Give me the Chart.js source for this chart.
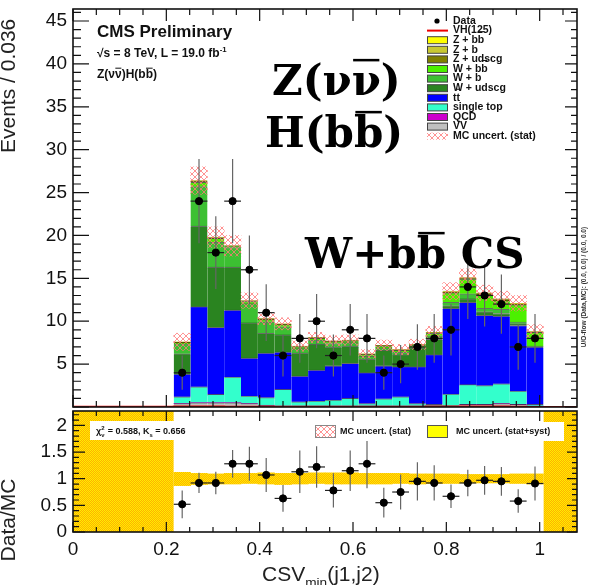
<!DOCTYPE html>
<html>
<head>
<meta charset="utf-8">
<script src="https://cdn.jsdelivr.net/npm/chart.js@4.4.1/dist/chart.umd.min.js"></script>
<style>
  body { margin: 0; background: #fff; }
  #wrap { position: relative; width: 591px; height: 585px; overflow: hidden; }
  #topBox { position: absolute; left: 0; top: 0; }
  #botBox { position: absolute; left: 0; top: 405px; }
</style>
</head>
<body>
<div id="wrap">
  <div id="topBox"><canvas id="topChart" width="591" height="412"></canvas></div>
  <div id="botBox"><canvas id="ratioChart" width="591" height="180"></canvas></div>
</div>
<script>
// bins of 0.036 in CSVmin, only the filled ones
var binCenters = [0.234, 0.270, 0.306, 0.342, 0.378, 0.414, 0.450, 0.486, 0.522, 0.558, 0.594,
                  0.630, 0.666, 0.702, 0.738, 0.774, 0.810, 0.846, 0.882, 0.918, 0.954, 0.990];
var binW = 0.036;

// MC stack, bottom to top
var vv        = [0.4, 0.5, 0.5, 0.5, 0.4, 0.2, 0.1, 0.1, 0.1, 0.1, 0.1, 0.1, 0.1, 0.1, 0.1, 0.1, 0.1, 0.3, 0.3, 0.4, 0.3, 0.1];
var qcd       = [0, 0, 0, 0, 0, 0, 0, 0, 0, 0, 0, 0, 0, 0, 0, 0, 0, 0, 0, 0, 0, 0];
var singleTop = [0.8, 1.85, 0.97, 3.0, 0.87, 0.9, 1.95, 0.5, 0.6, 0.7, 0.9, 0.3, 0.85, 1.1, 0.3, 0.2, 1.4, 2.3, 2.2, 2.3, 1.55, 0.2];
var ttbar     = [2.65, 9.35, 7.83, 7.8, 4.43, 5.2, 4.35, 3.0, 3.6, 4.0, 4.1, 3.6, 3.85, 3.5, 4.3, 5.8, 10.0, 9.6, 8.2, 7.9, 7.65, 6.7];
var wUdscg    = [2.35, 9.4, 7.0, 5.0, 4.1, 2.3, 2.0, 2.7, 3.0, 2.2, 2.0, 1.6, 1.8, 1.4, 2.2, 1.8, 0.3, 0.4, 0.4, 0.3, 0.2, 0.05];
var wB        = [1.15, 4.6, 2.9, 2.3, 2.25, 1.33, 0.95, 0.5, 0.5, 0.4, 0.4, 0.3, 0.3, 0.3, 0.1, 0.4, 0.4, 0.6, 0.4, 0.5, 0.2, 0.05];
var wBB       = [0.15, 0.5, 0.45, 0.15, 0.25, 0.25, 0.25, 0.2, 0.2, 0.2, 0.2, 0.2, 0.2, 0.2, 0.2, 0.3, 1.1, 1.7, 1.6, 1.0, 2.0, 1.6];
var zUdscg    = [0.05, 0.1, 0.07, 0.03, 0.05, 0.06, 0.05, 0.05, 0.05, 0.05, 0.05, 0.05, 0.05, 0.05, 0.05, 0.05, 0.08, 0.08, 0.08, 0.08, 0.08, 0.04];
var zB        = [0.03, 0.05, 0.04, 0.01, 0.03, 0.03, 0.03, 0.03, 0.03, 0.03, 0.03, 0.03, 0.03, 0.03, 0.03, 0.03, 0.06, 0.06, 0.06, 0.06, 0.06, 0.03];
var zBB       = [0.02, 0.05, 0.04, 0.01, 0.02, 0.03, 0.02, 0.02, 0.02, 0.02, 0.02, 0.02, 0.02, 0.02, 0.02, 0.02, 0.06, 0.06, 0.06, 0.06, 0.06, 0.03];
var vhSignal  = [0.02, 0.05, 0.05, 0.05, 0.04, 0.03, 0.03, 0.03, 0.03, 0.03, 0.03, 0.03, 0.03, 0.03, 0.03, 0.03, 0.05, 0.06, 0.06, 0.06, 0.06, 0.04];
var mcStatErr = [1.0, 1.6, 1.2, 1.2, 0.9, 0.7, 0.7, 0.6, 0.6, 0.6, 0.6, 0.5, 0.6, 0.6, 0.6, 0.7, 1.0, 1.0, 0.9, 0.9, 0.9, 0.8];

// data
var dataVals = [4, 24, 18, 24, 16, 11, 6, 8, 10, 6, 9, 8, 4, 5, 7, 8, 9, 14, 13, 12, 7, 8];
var dataErr  = [2.0, 4.9, 4.24, 4.9, 4.0, 3.32, 2.45, 2.83, 3.16, 2.45, 3.0, 2.83, 2.0, 2.24, 2.65, 2.83, 3.0, 3.74, 3.61, 3.46, 2.65, 2.83];

// ratio panel
var ratioVals = [0.52, 0.92, 0.92, 1.28, 1.28, 1.07, 0.63, 1.13, 1.22, 0.78, 1.15, 1.28, 0.55, 0.75, 0.95, 0.92, 0.67, 0.92, 0.97, 0.95, 0.58, 0.91];
var ratioErr  = [0.26, 0.19, 0.21, 0.26, 0.32, 0.32, 0.25, 0.40, 0.39, 0.32, 0.38, 0.46, 0.28, 0.33, 0.36, 0.33, 0.22, 0.25, 0.27, 0.27, 0.22, 0.32];
var systLo    = [0.87, 0.89, 0.90, 0.90, 0.91, 0.90, 0.89, 0.90, 0.91, 0.90, 0.90, 0.90, 0.90, 0.91, 0.90, 0.91, 0.91, 0.92, 0.92, 0.92, 0.91, 0.90];
var systHi    = [1.12, 1.10, 1.09, 1.10, 1.10, 1.11, 1.10, 1.10, 1.11, 1.11, 1.11, 1.10, 1.10, 1.10, 1.09, 1.09, 1.09, 1.08, 1.08, 1.08, 1.09, 1.09];
var noMcRanges = [[0, 0.216], [1.008, 1.08]];

var xMax = 1.08;
var yMax = 46.4;
var ratioMax = 2.27;

var SANS = "'Liberation Sans', Arial, sans-serif";
var SERIF = "'DejaVu Serif', serif";

Chart.defaults.font.family = SANS;
Chart.defaults.animation = false;
Chart.defaults.events = [];

// ROOT-like fill patterns
function hatchPattern() {
  var c = document.createElement('canvas');
  c.width = 6; c.height = 6;
  var g = c.getContext('2d');
  g.strokeStyle = 'rgba(255,120,120,0.8)';
  g.lineWidth = 1;
  g.beginPath();
  g.moveTo(0, 0); g.lineTo(6, 6);
  g.moveTo(6, 0); g.lineTo(0, 6);
  g.stroke();
  return g.createPattern(c, 'repeat');
}
function checkerPattern() {
  var c = document.createElement('canvas');
  c.width = 2; c.height = 2;
  var g = c.getContext('2d');
  g.fillStyle = '#ffee00';
  g.fillRect(0, 0, 2, 2);
  g.fillStyle = '#ffb000';
  g.fillRect(0, 0, 1, 1);
  g.fillRect(1, 1, 1, 1);
  return g.createPattern(c, 'repeat');
}
var hatch = hatchPattern();
var checker = checkerPattern();

function fmtTick(v) { return String(+v.toFixed(2)); }

// text with overlines / super- and subscripts
function rich(ctx, x, y, parts, size, family, weight) {
  var cx = x;
  parts.forEach(function (p) {
    var t = p[0], k = p[1] || '';
    var s = (k === '^' || k === '_') ? size * 0.65 : size;
    ctx.font = weight + ' ' + s + 'px ' + family;
    var dy = k === '^' ? -size * 0.45 : (k === '_' ? size * 0.28 : 0);
    ctx.fillText(t, cx, y + dy);
    var w = ctx.measureText(t).width;
    if (k === 'o') {
      ctx.fillRect(cx + w * 0.05, y - size * 0.86, w * 0.9, Math.max(1, size * 0.06));
    }
    cx += w;
  });
  return cx - x;
}

// error bars for the data points
var errorBars = {
  id: 'errorBars',
  beforeDatasetDraw: function (chart, args) {
    var ds = chart.data.datasets[args.index];
    if (!ds.errY) return;
    var xs = chart.scales.x, ys = chart.scales[ds.yAxisID];
    var ctx = chart.ctx;
    ctx.save();
    ctx.lineWidth = 1.2;
    args.meta.data.forEach(function (pt, i) {
      var d = ds.data[i], e = ds.errY[i];
      var y1 = ys.getPixelForValue(d.y - e), y2 = ys.getPixelForValue(d.y + e);
      var xl = xs.getPixelForValue(d.x - binW / 2), xr = xs.getPixelForValue(d.x + binW / 2);
      ctx.strokeStyle = '#666';
      ctx.beginPath();
      ctx.moveTo(pt.x, y1); ctx.lineTo(pt.x, y2);
      ctx.stroke();
      ctx.strokeStyle = '#222';
      ctx.beginPath();
      ctx.moveTo(xl, pt.y); ctx.lineTo(xr, pt.y);
      ctx.stroke();
    });
    ctx.restore();
  }
};

// frame with inward ticks on all sides
var rootFrame = {
  id: 'rootFrame',
  afterDraw: function (chart, args, o) {
    var ctx = chart.ctx, a = chart.chartArea;
    var xs = chart.scales.x, ys = chart.scales.y;
    ctx.save();
    ctx.strokeStyle = '#111';
    ctx.lineWidth = 1.2;
    ctx.beginPath();
    var v, k, len, p;
    for (k = 0; k * o.yMinor <= ys.max + 1e-9; k++) {
      v = k * o.yMinor;
      var major = Math.abs(v / o.yMajor - Math.round(v / o.yMajor)) < 1e-6;
      p = ys.getPixelForValue(v);
      len = major ? o.yLen[0] : o.yLen[1];
      ctx.moveTo(a.left, p); ctx.lineTo(a.left + len, p);
      len = major ? o.yLenR[0] : o.yLenR[1];
      ctx.moveTo(a.right, p); ctx.lineTo(a.right - len, p);
    }
    for (k = 0; k * o.xMinor <= xs.max + 1e-9; k++) {
      v = k * o.xMinor;
      var majorX = Math.abs(v / o.xMajor - Math.round(v / o.xMajor)) < 1e-6;
      p = xs.getPixelForValue(v);
      len = majorX ? o.xLen[0] : o.xLen[1];
      ctx.moveTo(p, a.bottom); ctx.lineTo(p, a.bottom - len);
      ctx.moveTo(p, a.top); ctx.lineTo(p, a.top + len);
    }
    ctx.stroke();
    ctx.lineWidth = 1.6;
    ctx.strokeRect(a.left, a.top, a.right - a.left, a.bottom - a.top);
    ctx.restore();
  }
};

// ---------------- top panel ----------------
var stackDefs = [
  ['VV', vv, '#c0c0c0'],
  ['QCD', qcd, '#cc00cc'],
  ['single top', singleTop, '#33ffcc'],
  ['tt', ttbar, '#0000ff'],
  ['W + udscg', wUdscg, '#2a8420'],
  ['W + b', wB, '#3cc032'],
  ['W + bb', wBB, '#4cf000'],
  ['Z + udscg', zUdscg, '#808000'],
  ['Z + b', zB, '#c8c832'],
  ['Z + bb', zBB, '#ffff00']
];

var mcTotal = binCenters.map(function (x, i) {
  return stackDefs.reduce(function (s, d) { return s + d[1][i]; }, 0);
});

var topSets = stackDefs.map(function (d) {
  return {
    type: 'bar',
    label: d[0],
    data: binCenters.map(function (x, i) { return { x: x, y: d[1][i] }; }),
    backgroundColor: d[2],
    borderColor: 'rgba(0,0,0,0.55)',
    borderWidth: { top: 1, left: 0, right: 0, bottom: 0 },
    barPercentage: 1,
    categoryPercentage: 1,
    yAxisID: 'y',
    order: 10
  };
});
topSets.push({
  type: 'bar',
  label: 'MC uncert. (stat)',
  data: binCenters.map(function (x, i) { return { x: x, y: [mcTotal[i] - mcStatErr[i], mcTotal[i] + mcStatErr[i]] }; }),
  backgroundColor: hatch,
  borderWidth: 0,
  barPercentage: 1,
  categoryPercentage: 1,
  grouped: false,
  yAxisID: 'yU',
  order: 3
});
var vhPoints = [{ x: 0, y: 0 }];
binCenters.forEach(function (x, i) { vhPoints.push({ x: x - binW / 2, y: vhSignal[i] }); });
vhPoints.push({ x: binCenters[binCenters.length - 1] + binW / 2, y: 0 });
vhPoints.push({ x: xMax, y: 0 });
topSets.push({
  type: 'line',
  label: 'VH(125)',
  data: vhPoints,
  stepped: 'after',
  borderColor: '#ee0000',
  borderWidth: 2,
  pointRadius: 0,
  yAxisID: 'yU',
  order: 2
});
topSets.push({
  type: 'line',
  label: 'Data',
  data: binCenters.map(function (x, i) { return { x: x, y: dataVals[i] }; }),
  errY: dataErr,
  showLine: false,
  pointRadius: 3.6,
  pointBackgroundColor: '#000',
  pointBorderColor: '#000',
  yAxisID: 'yU',
  order: 0
});

var legendRows = [
  ['dot', [['Data']]],
  ['line', [['VH(125)']]],
  ['#ffff00', [['Z + b'], ['b', 'o']]],
  ['#c8c832', [['Z + b']]],
  ['#808000', [['Z + udscg']]],
  ['#4cf000', [['W + b'], ['b', 'o']]],
  ['#3cc032', [['W + b']]],
  ['#2a8420', [['W + udscg']]],
  ['#0000ff', [['t'], ['t', 'o']]],
  ['#33ffcc', [['single top']]],
  ['#cc00cc', [['QCD']]],
  ['#c0c0c0', [['VV']]],
  ['hatch', [['MC uncert. (stat)']]]
];

var topText = {
  id: 'topText',
  afterDraw: function (chart) {
    var ctx = chart.ctx;
    ctx.save();
    ctx.fillStyle = '#111';
    ctx.textBaseline = 'alphabetic';
    ctx.textAlign = 'left';
    rich(ctx, 97, 37, [['CMS Preliminary']], 17, SANS, 'bold');
    rich(ctx, 97, 57, [['\u221As = 8 TeV, L = 19.0 fb'], ['-1', '^']], 12, SANS, 'bold');
    rich(ctx, 97, 78, [['Z(\u03BD'], ['\u03BD', 'o'], [')H(b'], ['b', 'o'], [')']], 12, SANS, 'bold');

    ctx.fillStyle = '#000';
    rich(ctx, 272, 95, [['Z(\u03BD'], ['\u03BD', 'o'], [')']], 42, SERIF, 'bold');
    rich(ctx, 265, 147, [['H(b'], ['b', 'o'], [')']], 42, SERIF, 'bold');
    rich(ctx, 305, 268, [['W+b'], ['b', 'o'], [' CS']], 42, SERIF, 'bold');

    // legend
    legendRows.forEach(function (r, i) {
      var yc = 21 + i * 9.6;
      if (r[0] === 'dot') {
        ctx.fillStyle = '#000';
        ctx.beginPath(); ctx.arc(437, yc, 2.6, 0, Math.PI * 2); ctx.fill();
      } else if (r[0] === 'line') {
        ctx.fillStyle = '#ee0000';
        ctx.fillRect(427, yc - 1, 21, 2);
      } else {
        ctx.fillStyle = r[0] === 'hatch' ? hatch : r[0];
        ctx.fillRect(427, yc - 3.5, 21, 7);
        ctx.strokeStyle = '#444';
        ctx.lineWidth = 1;
        if (r[0] !== 'hatch') ctx.strokeRect(427.5, yc - 3.5, 20, 7);
      }
      ctx.fillStyle = '#111';
      ctx.textBaseline = 'middle';
      rich(ctx, 453, yc, r[1], 10.5, SANS, 'bold');
    });

    // y title
    ctx.textBaseline = 'middle';
    ctx.save();
    ctx.translate(9, 153);
    ctx.rotate(-Math.PI / 2);
    ctx.font = '21px ' + SANS;
    ctx.fillStyle = '#222';
    ctx.textAlign = 'left';
    ctx.fillText('Events / 0.036', 0, 0);
    ctx.restore();

    // under/overflow note
    ctx.save();
    ctx.translate(584, 287);
    ctx.rotate(-Math.PI / 2);
    ctx.font = 'bold 6.5px ' + SANS;
    ctx.fillStyle = '#333';
    ctx.textAlign = 'center';
    ctx.fillText('U/O-flow (Data,MC): (0.0, 0.0) / (0.0, 0.0)', 0, 0);
    ctx.restore();
    ctx.restore();
  }
};

new Chart('topChart', {
  type: 'bar',
  data: { datasets: topSets },
  options: {
    responsive: false,
    layout: { padding: { top: 9, right: 14, bottom: 1, left: 0 } },
    plugins: {
      legend: { display: false },
      tooltip: { enabled: false },
      rootFrame: { xMajor: 0.2, xMinor: 0.05, yMajor: 5, yMinor: 1, yLen: [16, 8], yLenR: [12, 6], xLen: [12, 6] }
    },
    scales: {
      x: { type: 'linear', min: 0, max: xMax, offset: false, stacked: true, display: false },
      y: {
        stacked: true, min: 0, max: yMax,
        grid: { display: false, drawTicks: false },
        border: { display: false },
        ticks: {
          stepSize: 5, includeBounds: false, padding: 6, color: '#111',
          font: { size: 19 },
          callback: function (v) { return v === 0 ? '' : fmtTick(v); }
        },
        afterFit: function (s) { s.width = 73; s.paddingTop = 0; s.paddingBottom = 0; }
      },
      yU: { display: false, min: 0, max: yMax, stacked: false }
    }
  },
  plugins: [errorBars, rootFrame, topText]
});

// ---------------- ratio panel ----------------
var ratioSets = noMcRanges.map(function (r) {
  return {
    type: 'line',
    data: [{ x: r[0], y: ratioMax }, { x: r[1], y: ratioMax }],
    fill: 'start',
    backgroundColor: checker,
    borderWidth: 0,
    pointRadius: 0,
    yAxisID: 'y',
    order: 5
  };
});
ratioSets.push({
  type: 'bar',
  label: 'MC uncert. (stat+syst)',
  data: binCenters.map(function (x, i) { return { x: x, y: [systLo[i], systHi[i]] }; }),
  backgroundColor: checker,
  borderWidth: 0,
  barPercentage: 1,
  categoryPercentage: 1,
  grouped: false,
  yAxisID: 'y',
  order: 4
});
ratioSets.push({
  type: 'line',
  label: 'Data/MC',
  data: binCenters.map(function (x, i) { return { x: x, y: ratioVals[i] }; }),
  errY: ratioErr,
  showLine: false,
  pointRadius: 3.6,
  pointBackgroundColor: '#000',
  pointBorderColor: '#000',
  yAxisID: 'y',
  order: 0
});

var ratioText = {
  id: 'ratioText',
  afterDatasetsDraw: function (chart) {
    var ctx = chart.ctx;
    ctx.save();
    // chi2 box
    ctx.fillStyle = '#fff';
    ctx.fillRect(90, 16, 110, 19);
    ctx.fillStyle = '#111';
    ctx.textBaseline = 'alphabetic';
    ctx.font = 'bold 9px ' + SANS;
    var x = 96, y = 29;
    ctx.fillText('\u03C7', x, y);
    x += ctx.measureText('\u03C7').width;
    ctx.font = 'bold 6px ' + SANS;
    ctx.fillText('2', x, y - 4);
    ctx.fillText('\u03BD', x, y + 3);
    x += 4;
    rich(ctx, x, y, [[' = 0.588, K'], ['s', '_'], [' = 0.656']], 9, SANS, 'bold');

    // legend box
    ctx.fillStyle = '#fff';
    ctx.fillRect(312, 17, 252, 19);
    ctx.fillStyle = hatch;
    ctx.fillRect(315, 20, 20, 12);
    ctx.strokeStyle = '#888';
    ctx.lineWidth = 1;
    ctx.strokeRect(315.5, 20.5, 20, 12);
    ctx.fillStyle = '#ffff00';
    ctx.fillRect(427, 20, 20, 12);
    ctx.strokeStyle = '#555';
    ctx.strokeRect(427.5, 20.5, 20, 12);
    ctx.fillStyle = '#111';
    ctx.font = 'bold 9px ' + SANS;
    ctx.textBaseline = 'middle';
    ctx.fillText('MC uncert. (stat)', 340, 26.5);
    ctx.fillText('MC uncert. (stat+syst)', 456, 26.5);
    ctx.restore();
  },
  afterDraw: function (chart) {
    var ctx = chart.ctx;
    ctx.save();
    ctx.fillStyle = '#222';
    ctx.textBaseline = 'alphabetic';
    rich(ctx, 262, 176, [['CSV'], ['min', '_'], ['(j1,j2)']], 21, SANS, 'normal');
    ctx.translate(9, 115);
    ctx.rotate(-Math.PI / 2);
    ctx.font = '21px ' + SANS;
    ctx.textAlign = 'center';
    ctx.textBaseline = 'middle';
    ctx.fillText('Data/MC', 0, 0);
    ctx.restore();
  }
};

new Chart('ratioChart', {
  type: 'bar',
  data: { datasets: ratioSets },
  options: {
    responsive: false,
    layout: { padding: { top: 6, right: 14, bottom: 0, left: 0 } },
    plugins: {
      legend: { display: false },
      tooltip: { enabled: false },
      rootFrame: { xMajor: 0.2, xMinor: 0.05, yMajor: 0.5, yMinor: 0.1, yLen: [12, 6], yLenR: [10, 5], xLen: [10, 5] }
    },
    scales: {
      x: {
        type: 'linear', min: 0, max: xMax, offset: false, stacked: true,
        grid: { display: false, drawTicks: false },
        border: { display: false },
        ticks: {
          stepSize: 0.2, includeBounds: false, maxRotation: 0, padding: 6, color: '#111', font: { size: 19 },
          callback: function (v) { return fmtTick(v); }
        },
        afterFit: function (s) { s.height = 53; s.paddingLeft = 0; s.paddingRight = 0; }
      },
      y: {
        min: 0, max: ratioMax,
        grid: { display: false, drawTicks: false },
        border: { display: false },
        ticks: {
          stepSize: 0.5, includeBounds: false, padding: 6, color: '#111', font: { size: 19 },
          callback: function (v) { return fmtTick(v); }
        },
        afterFit: function (s) { s.width = 73; s.paddingTop = 0; s.paddingBottom = 0; }
      }
    }
  },
  plugins: [errorBars, rootFrame, ratioText]
});
</script>
</body>
</html>
